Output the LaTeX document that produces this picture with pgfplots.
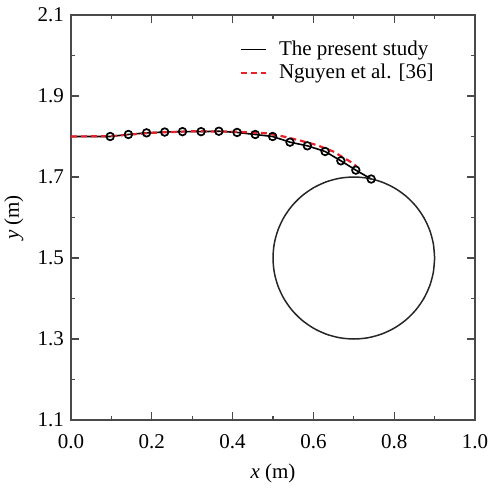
\documentclass[border=0pt]{standalone}
\usepackage{fontspec}
\setmainfont{Liberation Serif}
\usepackage{pgfplots}
\pgfplotsset{compat=1.18}
\definecolor{axgray}{HTML}{4A4A4A}
\definecolor{nred}{HTML}{E8202A}
\begin{document}
\fontsize{21}{25}\selectfont
\begin{tikzpicture}
\begin{axis}[
  scale only axis,
  width=404pt, height=405pt,
  xmin=0, xmax=1, ymin=1.1, ymax=2.1,
  xtick={0,0.2,0.4,0.6,0.8,1.0},
  ytick={1.1,1.3,1.5,1.7,1.9,2.1},
  minor xtick={0.1,0.3,0.5,0.7,0.9},
  minor ytick={1.2,1.4,1.6,1.8,2.0},
  tick align=inside,
  major tick length=8pt, minor tick length=4pt,
  every tick/.style={axgray, line width=1.2pt},
  axis line style={axgray, line width=1.5pt},
  /pgf/number format/assume math mode=true,
  xticklabel style={yshift=-7pt, /pgf/number format/.cd, fixed, fixed zerofill, precision=1},
  yticklabel style={/pgf/number format/.cd, fixed, fixed zerofill, precision=1},
  tick label style={font=\fontsize{21}{25}\selectfont},
  label style={font=\fontsize{21}{25}\selectfont},
  xlabel={\textit{x} (m)},
  xlabel style={yshift=-1pt},
  ylabel={\textit{y} (m)},
  legend style={draw=none, fill=none, at={(0.41,0.947)}, anchor=north west,
    font=\fontsize{21}{25}\selectfont, row sep=2pt, column sep=10pt,
    legend cell align=left},
  legend image code/.code={\draw[#1] (0pt,0pt) -- (25pt,0pt);},
]
\coordinate (SW) at (rel axis cs:0,0);
\coordinate (NE) at (rel axis cs:1,1);
% present study (line)
\addplot[black, line width=1.6pt] coordinates {
  (0,1.800) (0.097,1.800) (0.142,1.805) (0.187,1.809) (0.232,1.811)
  (0.276,1.812) (0.322,1.812) (0.366,1.813) (0.411,1.810) (0.456,1.805)
  (0.499,1.800) (0.542,1.786) (0.585,1.777) (0.629,1.763) (0.668,1.740)
  (0.705,1.717) (0.743,1.695)
};
\addlegendentry{The present study}
% Nguyen et al.
\addplot[nred, line width=2.2pt, dash pattern=on 6pt off 4pt] coordinates {
  (0,1.800) (0.1,1.801) (0.2,1.809) (0.3,1.813) (0.4,1.812) (0.484,1.808)
  (0.526,1.800) (0.567,1.790) (0.608,1.779) (0.649,1.763) (0.691,1.738)
  (0.707,1.726)
};
\addlegendentry{Nguyen et al. [36]}
% markers
\addplot[forget plot, only marks, mark=o, mark size=3.8pt, black,
  mark options={line width=1.7pt}] coordinates {
  (0.097,1.800) (0.142,1.805) (0.187,1.809) (0.232,1.811)
  (0.276,1.812) (0.322,1.812) (0.366,1.813) (0.411,1.810) (0.456,1.805)
  (0.499,1.800) (0.542,1.786) (0.585,1.777) (0.629,1.763) (0.668,1.740)
  (0.705,1.717) (0.743,1.695)
};
% cylinder
\addplot[forget plot, smooth, black!85, line width=1.5pt] coordinates {
  (0.9,1.5) (0.89696,1.53473) (0.88794,1.56840) (0.87321,1.6) (0.85321,1.62856)
  (0.82856,1.65321) (0.8,1.67321) (0.76840,1.68794) (0.73473,1.69696) (0.7,1.7)
  (0.66527,1.69696) (0.63160,1.68794) (0.6,1.67321) (0.57144,1.65321) (0.54679,1.62856)
  (0.52679,1.6) (0.51206,1.56840) (0.50304,1.53473) (0.5,1.5) (0.50304,1.46527)
  (0.51206,1.43160) (0.52679,1.4) (0.54679,1.37144) (0.57144,1.34679) (0.6,1.32679)
  (0.63160,1.31206) (0.66527,1.30304) (0.7,1.3) (0.73473,1.30304) (0.76840,1.31206)
  (0.8,1.32679) (0.82856,1.34679) (0.85321,1.37144) (0.87321,1.4) (0.88794,1.43160)
  (0.89696,1.46527) (0.9,1.5)
};
\end{axis}
\pgfresetboundingbox
\path ([shift={(-71pt,-67pt)}]SW) rectangle ([shift={(14pt,15pt)}]NE);
\end{tikzpicture}
\end{document}
